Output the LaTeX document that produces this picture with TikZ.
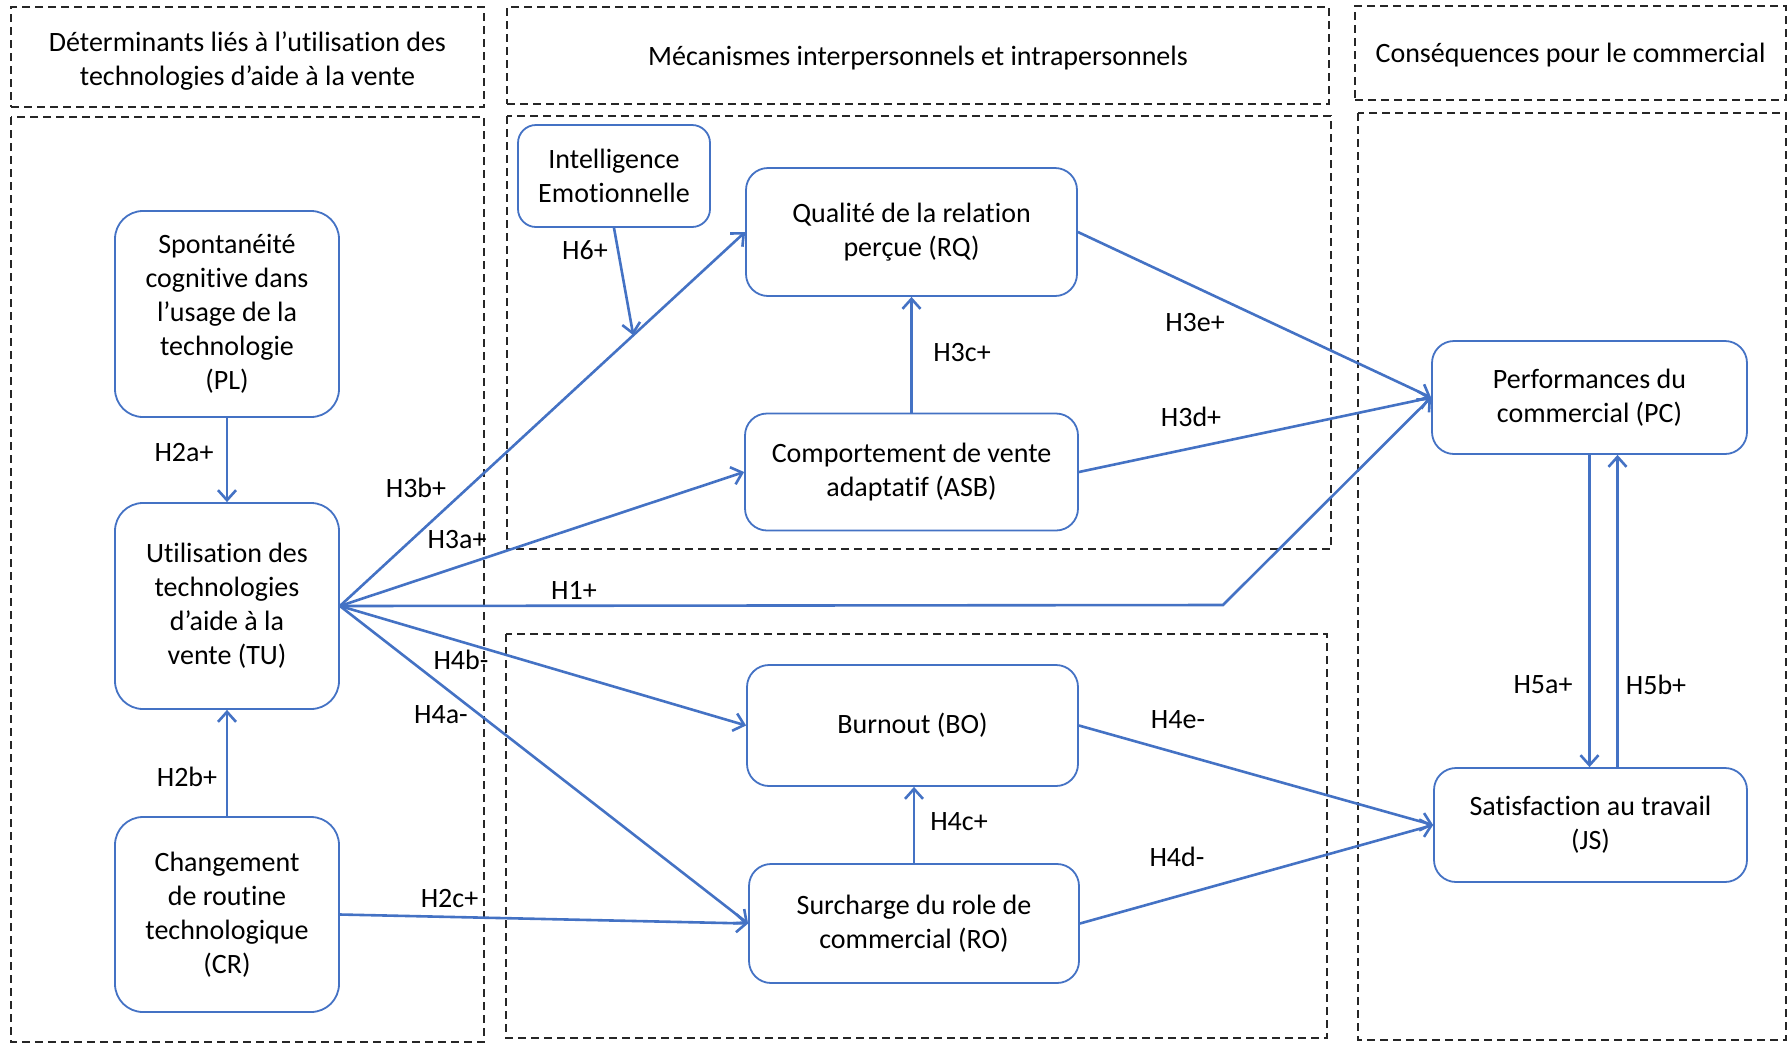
\documentclass[tikz,border=0pt]{standalone}
\usepackage{fontspec}
\setmainfont{Carlito}[Ligatures=NoCommon]
\usetikzlibrary{arrows.meta}
\definecolor{blueA}{HTML}{4472C4}
\newcommand{\diafont}{\fontsize{14}{17}\selectfont}
\begin{document}
\begin{tikzpicture}[x=0.5pt,y=-0.5pt,
  box/.style={draw=blueA, line width=0.9pt, rounded corners=11pt, align=center, inner sep=2pt, font=\diafont},
  zone/.style={draw=black!85, dash pattern=on 4pt off 2.5pt, line width=0.6pt},
  hzone/.style={zone, inner sep=0pt},
  htext/.style={align=center, inner sep=0pt, font=\diafont},
  arr/.style={draw=blueA, line width=1.3pt, -{Straight Barb[length=5pt,width=9pt]}},
  lab/.style={font=\diafont, inner sep=0pt}]
\useasboundingbox (0,0) rectangle (1789,1045);
% header zones
\node[hzone, minimum width=236.5pt, minimum height=50pt] (hL) at (247.5,57) {};
\node[htext] (tL) at (247.5,61) {Déterminants liés à l’utilisation des\\technologies d’aide à la vente};
\node[hzone, minimum width=411pt, minimum height=48.5pt] (hM) at (918,55.5) {};
\node[htext] (tM) at (918,58) {Mécanismes interpersonnels et intrapersonnels};
\node[hzone, minimum width=215.5pt, minimum height=47pt] (hR) at (1570.5,53) {};
\node[htext] (tR) at (1570.5,55) {Conséquences pour le commercial};
% body zones
\draw[zone] (11,117) rectangle (484,1042);
\draw[zone] (507,116) rectangle (1331,549);
\draw[zone] (506,634) rectangle (1327,1038);
\draw[zone] (1358,113) rectangle (1786,1040);
% nodes
\node[box, minimum width=96pt, minimum height=51pt, rounded corners=9pt] (IE) at (614,176) {Intelligence\\Emotionnelle};
\node[box, minimum width=165.5pt, minimum height=64pt] (RQ) at (911.5,232) {Qualité de la relation\\perçue (RQ)};
\node[box, minimum width=166.5pt, minimum height=58.5pt] (ASB) at (911.5,472) {Comportement de vente\\adaptatif (ASB)};
\node[box, minimum width=112pt, minimum height=103pt, rounded corners=14pt] (PL) at (227,314) {Spontanéité\\cognitive dans\\l’usage de la\\technologie\\(PL)};
\node[box, minimum width=112pt, minimum height=103pt, rounded corners=14pt] (TU) at (227,606) {Utilisation des\\technologies\\d’aide à la\\vente (TU)};
\node[box, minimum width=112pt, minimum height=97.5pt, rounded corners=14pt] (CR) at (227,914.5) {Changement\\de routine\\technologique\\(CR)};
\node[box, minimum width=165.5pt, minimum height=60.5pt] (BO) at (912.5,725.5) {Burnout (BO)};
\node[box, minimum width=165pt, minimum height=59.5pt] (RO) at (914,923.5) {Surcharge du role de\\commercial (RO)};
\node[box, minimum width=157.5pt, minimum height=56.5pt] (PC) at (1589.5,397.5) {Performances du\\commercial (PC)};
\node[box, minimum width=156.5pt, minimum height=57pt] (JS) at (1590.5,825) {Satisfaction au travail\\(JS)};
% connectors
\draw[arr] (PL) -- (TU);
\draw[arr] (CR) -- (TU);
\draw[arr] (TU.east) -- coordinate[pos=0.724] (m6) (RQ.west);
\draw[arr] (IE.south) -- (m6);
\draw[arr] (TU.east) -- (ASB.west);
\coordinate (h1b) at (1223,605);
\draw[arr] (TU.east) -- (h1b) -- (PC.west);
\draw[arr] (TU.east) -- (BO.west);
\draw[arr] (TU.east) -- (RO.west);
\draw[arr] (CR.east) -- (RO.west);
\draw[arr] (ASB.north) -- (ASB.north |- RQ.south);
\draw[arr] (RO.north) -- (RO.north |- BO.south);
\draw[arr] (RQ.east) -- (PC.west);
\draw[arr] (ASB.east) -- (PC.west);
\draw[arr] (BO.east) -- (JS.west);
\draw[arr] (RO.east) -- (JS.west);
\draw[arr] (PC.south) -- (PC.south |- JS.north);
\draw[arr] ([xshift=14pt]PC.south |- JS.north) -- ([xshift=14pt]PC.south);
% labels
\node[lab] (l2a) at (184,453) {H2a+};
\node[lab] (l2b) at (187,777) {H2b+};
\node[lab] (l6) at (585,250) {H6+};
\node[lab] (l3b) at (416,488) {H3b+};
\node[lab] (l3a) at (457,540) {H3a+};
\node[lab] (l1) at (574,590) {H1+};
\node[lab] (l4b) at (461,660) {H4b-};
\node[lab] (l4a) at (441,715) {H4a-};
\node[lab] (l2c) at (449.5,898) {H2c+};
\node[lab] (l3c) at (962,353) {H3c+};
\node[lab] (l3e) at (1195,323) {H3e+};
\node[lab] (l3d) at (1191,417) {H3d+};
\node[lab] (l4e) at (1178,720) {H4e-};
\node[lab] (l4c) at (959,822) {H4c+};
\node[lab] (l4d) at (1177,857) {H4d-};
\node[lab] (l5a) at (1543,685) {H5a+};
\node[lab] (l5b) at (1656,685) {H5b+};
\end{tikzpicture}
\end{document}
